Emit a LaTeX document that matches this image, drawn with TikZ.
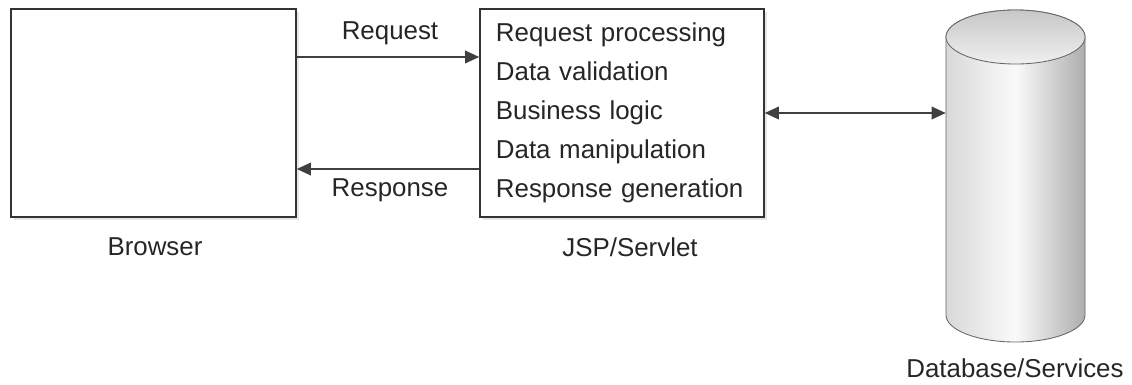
\documentclass[tikz,border=0pt]{standalone}
\usepackage{fontspec}
\setmainfont{Liberation Sans}
\usetikzlibrary{arrows.meta,positioning,calc,shadows}

\begin{document}
\begin{tikzpicture}[x=0.025cm,y=-0.025cm,
	>={Triangle[length=10pt,width=9pt]},
	box/.style={draw=black!80,line width=1.1pt,fill=white,inner sep=0pt,
		drop shadow={shadow xshift=0.7mm,shadow yshift=-0.7mm,opacity=0.2}},
	lbl/.style={font=\fontsize{18.4}{22}\selectfont,text=black!85},
	conn/.style={draw=black!75,line width=1.1pt}]
	\useasboundingbox (0,0) rectangle (1132,384);
	% boxes
	\node[box,minimum width=7.125cm,minimum height=5.2cm] (browser) at (153.5,113) {};
	\node[box,lbl,minimum width=7.1cm,minimum height=5.2cm,text width=6.3cm,
		align=left,font=\fontsize{18.4}{27.7}\selectfont] (jsp) at (622,113)
		{Request processing\\Data validation\\Business logic\\Data manipulation\\Response generation};
	% cylinder
	\shade[draw=black!60,line width=0.6pt,left color=black!15,right color=black!32,middle color=black!2]
		(946,37) -- (946,315) arc[start angle=180,end angle=360,x radius=1.7375cm,y radius=0.675cm]
		-- (1085,37) arc[start angle=0,end angle=180,x radius=1.7375cm,y radius=0.675cm] -- cycle;
	\shade[draw=black!60,line width=0.6pt,top color=black!22,bottom color=black!6]
		(1015.5,37) ellipse[x radius=1.7375cm,y radius=0.675cm];
	\node[minimum width=3.475cm,minimum height=8.3cm,inner sep=0pt] (db) at (1015.5,176) {};
	% labels
	\node[lbl] (browserlbl) at (155,247) {Browser};
	\node[lbl] (jsplbl) at (630,247) {JSP/Servlet};
	\node[lbl] (dblbl) at (1015,368) {Database/Services};
	\node[lbl] (reqlbl) at (390,33) {Request};
	\node[lbl] (resplbl) at (390,190) {Response};
	% connectors
	\draw[conn,->] ([yshift=1.4cm]browser.east) -- ([yshift=1.4cm]jsp.west);
	\draw[conn,->] ([yshift=-1.4cm]jsp.west) -- ([yshift=-1.4cm]browser.east);
	\draw[conn,<->] (jsp.east) -- (jsp.east -| db.west);
\end{tikzpicture}
\end{document}
